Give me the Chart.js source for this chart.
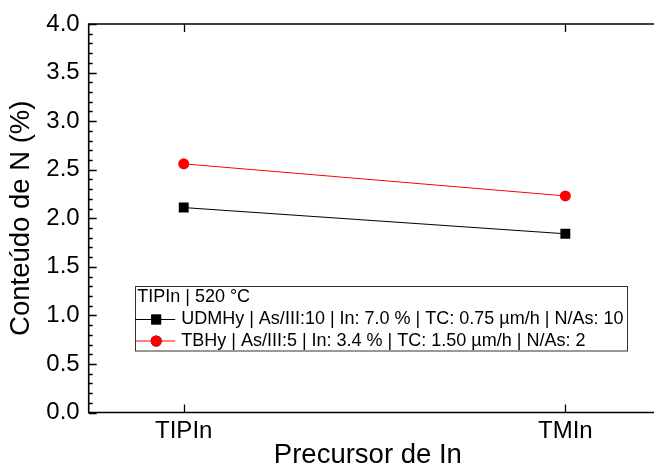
<!DOCTYPE html>
<html>
<head>
<meta charset="utf-8">
<script src="https://cdn.jsdelivr.net/npm/chart.js@4.4.1/dist/chart.umd.min.js"></script>
<style>
  html, body { margin: 0; padding: 0; background: #fff; }
  canvas { display: block; }
</style>
</head>
<body>
<canvas id="c" width="654" height="470"></canvas>
<script>
// Nitrogen content by indium precursor
const precursors = ['TIPIn', 'TMIn'];
const udmhyN = [2.11, 1.84];
const tbhyN = [2.56, 2.23];
const seriesLabels = [
  'UDMHy | As/III:10 | In: 7.0 % | TC: 0.75 µm/h | N/As: 10',
  'TBHy | As/III:5 | In: 3.4 % | TC: 1.50 µm/h | N/As: 2'
];
const legendTitle = 'TIPIn | 520 °C';
const yMin = 0, yMax = 4.0, yStep = 0.5, yMinorStep = 0.1;

const FONT = "'Liberation Sans', Arial, sans-serif";

// Box frame with inward major/minor ticks
const framePlugin = {
  id: 'frame',
  afterDatasetsDraw(chart) {
    const { ctx, chartArea: a, scales: { x, y } } = chart;
    const edge = chart.width + 2;
    ctx.save();
    ctx.strokeStyle = '#000';
    ctx.lineWidth = 1.6;
    ctx.beginPath();
    ctx.moveTo(edge, a.top);
    ctx.lineTo(a.left, a.top);
    ctx.lineTo(a.left, a.bottom);
    ctx.lineTo(edge, a.bottom);
    ctx.stroke();

    ctx.lineWidth = 1.3;
    ctx.beginPath();
    const nMinor = Math.round((yMax - yMin) / yMinorStep);
    const perMajor = Math.round(yStep / yMinorStep);
    for (let i = 0; i <= nMinor; i++) {
      const py = Math.round(y.getPixelForValue(yMin + i * yMinorStep)) + 0.5;
      const len = i % perMajor === 0 ? 8 : 4;
      ctx.moveTo(a.left, py);
      ctx.lineTo(a.left + len, py);
    }
    x.ticks.forEach(t => {
      const px = Math.round(x.getPixelForValue(t.value)) + 0.5;
      ctx.moveTo(px, a.bottom);
      ctx.lineTo(px, a.bottom - 8);
      ctx.moveTo(px, a.top);
      ctx.lineTo(px, a.top + 8);
    });
    ctx.stroke();
    ctx.restore();
  }
};

// Boxed legend with a title line, drawn inside the plot area
const boxLegendPlugin = {
  id: 'boxLegend',
  afterDraw(chart) {
    const { ctx, chartArea: a } = chart;
    const bx = a.left + 46.5, by = a.top + 262, bw = 492, bh = 64.5;
    ctx.save();
    ctx.strokeStyle = '#333';
    ctx.lineWidth = 1;
    ctx.strokeRect(Math.round(bx) + 0.5, Math.round(by) + 0.5, bw, bh);

    ctx.font = `18px ${FONT}`;
    ctx.fillStyle = '#000';
    ctx.textBaseline = 'middle';
    ctx.textAlign = 'left';
    ctx.fillText(legendTitle, bx + 2, by + 11);

    chart.data.datasets.forEach((ds, i) => {
      const cy = by + 33.5 + i * 21.5;
      ctx.strokeStyle = ds.borderColor;
      ctx.lineWidth = ds.borderWidth;
      ctx.beginPath();
      ctx.moveTo(bx, cy);
      ctx.lineTo(bx + 40, cy);
      ctx.stroke();
      Chart.helpers.drawPoint(ctx, {
        pointStyle: ds.pointStyle,
        radius: ds.pointRadius,
        borderWidth: 0,
        rotation: 0
      }, bx + 21, cy);
      ctx.fillStyle = ds.pointBackgroundColor;
      ctx.fill();
      ctx.fillStyle = '#000';
      ctx.fillText(ds.label, bx + 46, cy);
    });
    ctx.restore();
  }
};

const toXY = vals => vals.map((v, i) => ({ x: i, y: v }));

new Chart(document.getElementById('c'), {
  type: 'line',
  data: {
    datasets: [
      {
        label: seriesLabels[0],
        data: toXY(udmhyN),
        borderColor: '#000000',
        borderWidth: 1,
        pointStyle: 'rect',
        pointRadius: 7,
        pointBorderWidth: 0,
        pointBackgroundColor: '#000000',
        pointHoverRadius: 7
      },
      {
        label: seriesLabels[1],
        data: toXY(tbhyN),
        borderColor: '#ff0000',
        borderWidth: 1,
        pointStyle: 'circle',
        pointRadius: 5.5,
        pointBorderWidth: 0,
        pointBackgroundColor: '#ff0000',
        pointHoverRadius: 5.5
      }
    ]
  },
  options: {
    responsive: false,
    animation: false,
    events: [],
    layout: { padding: { top: 24, right: 0, left: 0, bottom: 0 } },
    plugins: { legend: { display: false }, tooltip: { enabled: false } },
    scales: {
      x: {
        type: 'linear',
        min: -0.249,
        max: 1.214,
        grid: { display: false, drawTicks: false },
        border: { display: false },
        afterBuildTicks: s => { s.ticks = precursors.map((_, i) => ({ value: i })); },
        afterFit: s => { s.height = 57.5; s.paddingRight = 0; s.paddingLeft = 0; },
        ticks: {
          padding: 4,
          color: '#000',
          font: { family: FONT, size: 24 },
          callback: v => precursors[v]
        },
        title: {
          display: true,
          text: 'Precursor de In',
          color: '#000',
          font: { family: FONT, size: 27.5, lineHeight: 1 },
          padding: { top: 0, bottom: 1 }
        }
      },
      y: {
        min: yMin,
        max: yMax,
        grid: { display: false, drawTicks: false },
        border: { display: false },
        afterFit: s => { s.width = 88.7; s.paddingTop = 0; s.paddingBottom = 0; },
        ticks: {
          stepSize: yStep,
          padding: 9,
          color: '#000',
          font: { family: FONT, size: 24 },
          callback: v => Number(v).toFixed(1)
        },
        title: {
          display: true,
          text: 'Conteúdo de N (%)',
          color: '#000',
          font: { family: FONT, size: 27.5, lineHeight: 1 },
          padding: { top: 8, bottom: 0 }
        }
      }
    }
  },
  plugins: [framePlugin, boxLegendPlugin]
});
</script>
</body>
</html>
